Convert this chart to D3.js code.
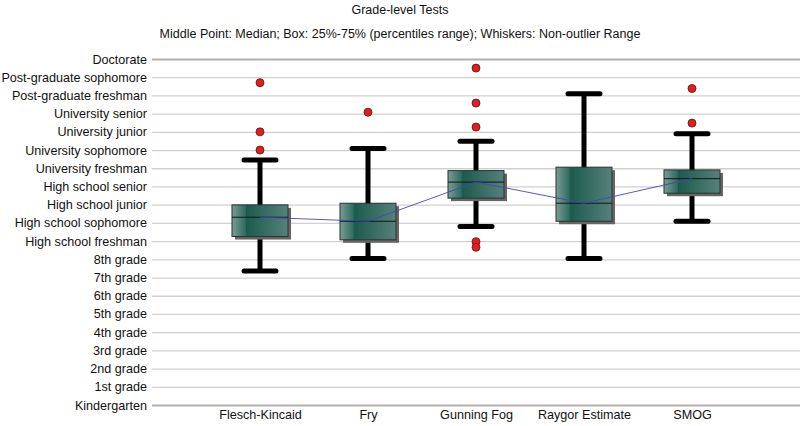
<!DOCTYPE html>
<html><head><meta charset="utf-8">
<script src="https://cdn.jsdelivr.net/npm/d3@7"></script>
<style>body{margin:0;background:#fff;} svg{display:block;font-family:"Helvetica Neue",Helvetica,"Liberation Sans",Arial,sans-serif;}</style>
</head><body>
<svg id="c" width="800" height="426"></svg>
<script>
const gradeLabels = ["Kindergarten","1st grade","2nd grade","3rd grade","4th grade","5th grade","6th grade","7th grade","8th grade","High school freshman","High school sophomore","High school junior","High school senior","University freshman","University sophomore","University junior","University senior","Post-graduate freshman","Post-graduate sophomore","Doctorate"];
const tests = ["Flesch-Kincaid","Fry","Gunning Fog","Raygor Estimate","SMOG"];
const whiskerLow  = [7.36, 8.04, 9.8, 8.04, 10.09];
const q1          = [9.25, 9.07, 11.36, 10.09, 11.63];
const medians     = [10.31, 10.09, 12.24, 11.08, 12.43];
const q3          = [10.99, 11.08, 12.87, 13.06, 12.91];
const whiskerHigh = [13.46, 14.08, 14.49, 17.09, 14.89];
const outliers    = [[17.7, 15.0, 14.0], [16.08], [18.5, 16.58, 15.26, 8.97, 8.66], [], [17.38, 15.48]];

const svg = d3.select("#c");
const W = 800, H = 426;
const y = d3.scaleLinear().domain([0, 19]).range([405, 59]);
const x = d3.scalePoint().domain(tests).range([152, 800]).padding(1);

svg.append("text").attr("x", 400).attr("y", 14).attr("text-anchor","middle").attr("font-size", 12.5).attr("fill","#111").text("Grade-level Tests");
svg.append("text").attr("x", 400).attr("y", 38).attr("text-anchor","middle").attr("font-size", 12.5).attr("fill","#111").text("Middle Point: Median; Box: 25%-75% (percentiles range); Whiskers: Non-outlier Range");

const defs = svg.append("defs");
const g1 = defs.append("linearGradient").attr("id","boxg").attr("x1","0").attr("x2","1").attr("y1","0").attr("y2","0");
[[0,"#7a9d95"],[0.24,"#2f6a5e"],[0.25,"#1c5a4d"],[1,"#56817a"]].forEach(s=>g1.append("stop").attr("offset",s[0]).attr("stop-color",s[1]));

const yAxis = d3.axisLeft(y).tickValues(d3.range(0,20)).tickFormat(i=>gradeLabels[i]).tickSize(0).tickPadding(5);
const ga = svg.append("g").attr("transform","translate(152,0)").call(yAxis);
ga.select(".domain").remove();
ga.selectAll("text").attr("font-size",12.6).attr("fill","#111").attr("font-family","inherit");
ga.selectAll(".tick").append("line").attr("x1",0).attr("x2",W-152)
  .attr("stroke", d => (d===0||d===19) ? "#b3adad" : "#d3cfcf")
  .attr("stroke-width", d => (d===0||d===19) ? 2.2 : 1.3);

const xAxis = d3.axisBottom(x).tickSize(0).tickPadding(4);
const gx = svg.append("g").attr("transform","translate(0,406)").call(xAxis);
gx.select(".domain").remove();
gx.selectAll("text").attr("font-size",12.6).attr("fill","#111").attr("font-family","inherit");

const bw = 56, cw = 32;
const gb = svg.append("g");
tests.forEach((t,i)=>{
  const cx = x(t);
  const g = gb.append("g");
  g.append("line").attr("x1",cx).attr("x2",cx).attr("y1",y(whiskerLow[i])).attr("y2",y(whiskerHigh[i])).attr("stroke","#000").attr("stroke-width",5);
  [whiskerLow[i], whiskerHigh[i]].forEach(v=>{
    g.append("line").attr("x1",cx-cw/2).attr("x2",cx+cw/2).attr("y1",y(v)).attr("y2",y(v)).attr("stroke","#000").attr("stroke-width",5).attr("stroke-linecap","round");
  });
  g.append("rect").attr("x",cx-bw/2+3).attr("y",y(q3[i])+3).attr("width",bw).attr("height",y(q1[i])-y(q3[i])).attr("fill","#6b6464");
  g.append("rect").attr("x",cx-bw/2).attr("y",y(q3[i])).attr("width",bw).attr("height",y(q1[i])-y(q3[i])).attr("fill","url(#boxg)").attr("stroke","#25332f").attr("stroke-width",1);
  g.append("line").attr("x1",cx-bw/2).attr("x2",cx+bw/2).attr("y1",y(medians[i])).attr("y2",y(medians[i])).attr("stroke","#0d1a17").attr("stroke-width",1);
  outliers[i].forEach(v=>{
    g.append("circle").attr("cx",cx).attr("cy",y(v)).attr("r",4).attr("fill","#e41d1d").attr("stroke","#5a1010").attr("stroke-width",0.8);
  });
});

svg.append("path").datum(tests.map((t,i)=>[x(t), y(medians[i])]))
  .attr("d", d3.line()).attr("fill","none").attr("stroke","#4646b4").attr("stroke-width",0.9);
</script>
</body></html>
